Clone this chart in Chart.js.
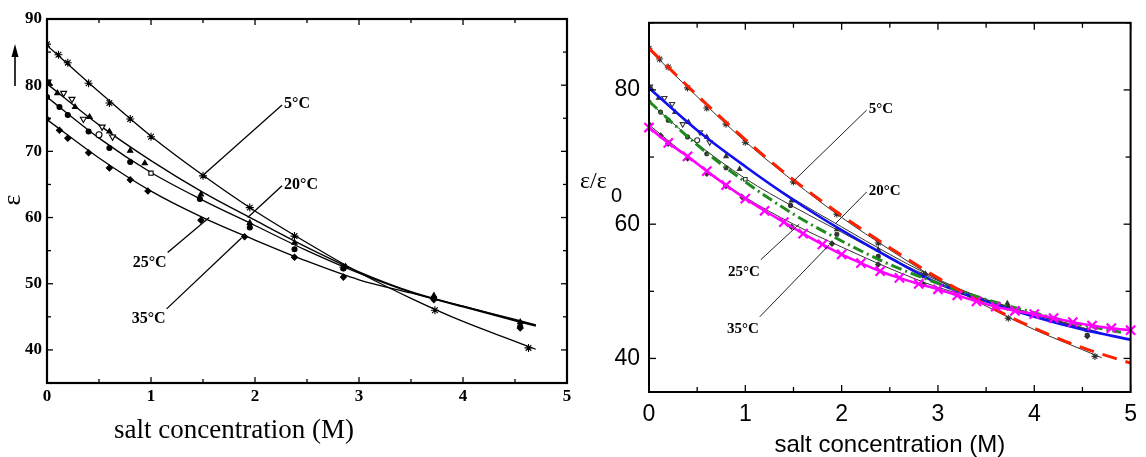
<!DOCTYPE html>
<html>
<head>
<meta charset="utf-8">
<script src="https://cdn.jsdelivr.net/npm/chart.js@4.4.1/dist/chart.umd.min.js"></script>
<style>
  html,body{margin:0;padding:0;background:#fff;}
  #wrap{position:relative;width:1146px;height:457px;overflow:hidden;background:#fff;}
  canvas{position:absolute;top:0;}
  #left{left:0;}
  #right{left:580px;}
</style>
</head>
<body>
<div id="wrap">
  <canvas id="left" width="580" height="457"></canvas>
  <canvas id="right" width="566" height="457"></canvas>
</div>
<script>
(function(){
  "use strict";

  const FIT_X   = [0, 0.5, 1, 1.5, 2, 2.5, 3, 3.5, 4, 4.5, 4.7];
  const FIT_5C  = [86.0, 79.0, 72.3, 66.4, 61.0, 56.2, 51.7, 47.8, 44.3, 41.3, 40.1];
  const FIT_20C = [80.2, 74.0, 68.6, 63.8, 59.6, 55.5, 51.8, 48.8, 46.6, 44.5, 43.7];
  const FIT_25C = [78.2, 72.0, 66.8, 62.6, 58.8, 55.0, 51.6, 48.7, 46.5, 44.4, 43.6];
  const FIT_35C = [74.8, 69.0, 64.0, 60.0, 56.6, 53.4, 50.6, 48.6, 46.6, 44.6, 43.8];

  // measured points
  const M5_X  = [0, 0.11, 0.2, 0.4, 0.6, 0.8, 1.0, 1.5, 1.95, 2.38, 2.85, 3.73, 4.63];
  const M5_Y  = [86.2, 84.6, 83.4, 80.3, 77.3, 74.9, 72.2, 66.3, 61.5, 57.2, 52.5, 46.0, 40.3];
  const M20_X = [0.02, 0.1, 0.27, 0.41, 0.6, 0.8, 0.94, 1.48, 1.95, 2.38, 2.87, 3.72, 4.55];
  const M20_Y = [80.3, 78.8, 76.7, 75.2, 73.0, 70.1, 68.2, 63.5, 59.2, 56.2, 52.6, 48.2, 44.2];
  const M25_X = [0, 0.12, 0.2, 0.4, 0.6, 0.8, 1.47, 1.95, 2.38, 2.85, 3.72, 4.55];
  const M25_Y = [78.2, 76.7, 75.5, 73.0, 70.5, 68.4, 62.8, 58.5, 55.2, 52.3, 47.8, 43.5];
  const M35_X = [0, 0.12, 0.2, 0.4, 0.6, 0.8, 0.97, 1.48, 1.9, 2.38, 2.85, 3.72, 4.55];
  const M35_Y = [74.9, 73.2, 72.0, 69.8, 67.5, 65.7, 64.0, 59.6, 57.1, 54.0, 51.0, 47.6, 43.3];
  const OPEN_X = [0.01, 0.16, 0.24, 0.35, 0.53, 0.63];
  const OPEN_Y = [80.5, 78.8, 77.9, 74.9, 73.7, 72.2];
  const SQ_X = [1.0], SQ_Y = [66.7];
  const CIRC_X = [0.5], CIRC_Y = [72.5];

  // model curves (right panel)
  const RED_X   = [0, 0.5, 1, 1.5, 2, 2.5, 3, 3.5, 4, 4.5, 5];
  const RED_Y   = [86.2, 79.2, 72.6, 66.6, 61.3, 56.5, 52.0, 48.0, 44.5, 41.6, 39.3];
  const BLUE_X  = [0, 0.5, 1, 1.5, 2, 2.5, 3, 3.5, 4, 4.5, 5];
  const BLUE_Y  = [80.3, 74.0, 68.6, 63.6, 59.1, 55.0, 51.2, 48.5, 46.2, 44.3, 42.8];
  const GREEN_X = [0, 0.5, 1, 1.5, 2, 2.5, 3, 3.5, 4, 4.5, 4.9];
  const GREEN_Y = [78.3, 71.8, 66.3, 61.5, 57.5, 54.0, 51.2, 48.8, 46.8, 45.0, 43.9];
  const MAG_X = [0, 0.2, 0.4, 0.6, 0.8, 1.0, 1.2, 1.4, 1.6, 1.8, 2.0, 2.2, 2.4, 2.6, 2.8, 3.0, 3.2, 3.4, 3.6, 3.8, 4.0, 4.2, 4.4, 4.6, 4.8, 5.0];
  const MAG_Y = [74.4, 72.1, 70.1, 67.9, 65.8, 63.8, 62.0, 60.3, 58.6, 57.0, 55.5, 54.2, 53.0, 52.0, 51.1, 50.3, 49.4, 48.5, 47.7, 47.1, 46.6, 46.0, 45.4, 44.9, 44.5, 44.2];

  // temperature labels with their leader lines (data coords)
  const LABELS   = ["5°C", "20°C", "25°C", "35°C"];
  const LEAD_X0  = [2.26, 2.26, 1.16, 1.15];
  const LEAD_Y0  = [77.0, 64.8, 54.7, 46.2];
  const LEAD_X1  = [1.5, 1.93, 1.56, 1.87];
  const LEAD_Y1  = [66.4, 60.0, 60.0, 56.9];

  const X_MIN = 0, X_MAX = 5;
  const Y_MIN = 35, Y_MAX = 90;

  function pts(xs, ys){ return xs.map((x,i)=>({x:x, y:ys[i]})); }

  function line(data, color, width, extra){
    return Object.assign({data:data, showLine:true, borderColor:color, borderWidth:width,
      pointRadius:0, cubicInterpolationMode:"monotone", fill:false}, extra||{});
  }
  function marks(data, style, r, fill, stroke, extra){
    return Object.assign({data:data, showLine:false, pointStyle:style, pointRadius:r,
      pointBackgroundColor:fill, pointBorderColor:stroke, pointBorderWidth:1.1}, extra||{});
  }

  function blackSet(c, r){
    return [
      line(pts(FIT_X, FIT_5C),  c, r.lw, {order:2}),
      line(pts(FIT_X, FIT_20C), c, r.lw, {order:2}),
      line(pts(FIT_X, FIT_25C), c, r.lw, {order:2}),
      line(pts(FIT_X, FIT_35C), c, r.lw, {order:2}),
      marks(pts(M5_X, M5_Y), "star", r.ms+1, c, c, {order:1}),
      marks(pts(M20_X, M20_Y), "triangle", r.ms, c, c, {order:1}),
      marks(pts(M25_X, M25_Y), "circle", r.ms-0.5, c, c, {order:1}),
      marks(pts(M35_X, M35_Y), "rectRot", r.ms, c, c, {order:1}),
      marks(pts(OPEN_X, OPEN_Y), "triangle", r.ms+0.5, "#fff", c, {order:1, rotation:180}),
      marks(pts(SQ_X, SQ_Y), "rect", r.ms, "#fff", c, {order:1}),
      marks(pts(CIRC_X, CIRC_Y), "circle", r.ms, "#fff", c, {order:1})
    ];
  }

  function decor(cfg){
    return {
      id:"decor",
      afterDatasetsDraw(chart){
        const ctx=chart.ctx, xs=chart.scales.x, ys=chart.scales.y;
        ctx.save();
        ctx.strokeStyle=cfg.leadColor; ctx.lineWidth=cfg.leadWidth; ctx.fillStyle="#000";
        ctx.font=cfg.labelFont; ctx.textBaseline="middle";
        LABELS.forEach((t,i)=>{
          const x0=xs.getPixelForValue(LEAD_X0[i]), y0=ys.getPixelForValue(LEAD_Y0[i]);
          const x1=xs.getPixelForValue(LEAD_X1[i]), y1=ys.getPixelForValue(LEAD_Y1[i]);
          ctx.beginPath(); ctx.moveTo(x0,y0); ctx.lineTo(x1,y1); ctx.stroke();
          if(i<2){ ctx.textAlign="left"; ctx.fillText(t, x0+2, y0-1); }
          else { ctx.textAlign="right"; ctx.fillText(t, x0-1, y0+cfg.lowDy); }
        });
        ctx.restore();
      },
      afterDraw(chart){
        const ctx=chart.ctx, a=chart.chartArea, xs=chart.scales.x, ys=chart.scales.y;
        ctx.save();
        ctx.strokeStyle="#000"; ctx.lineWidth=cfg.tickWidth;
        const seg=(x0,y0,x1,y1)=>{ctx.beginPath();ctx.moveTo(x0,y0);ctx.lineTo(x1,y1);ctx.stroke();};
        xs.ticks.forEach(t=>{
          const p=xs.getPixelForValue(t.value);
          const L=Number.isInteger(t.value)?cfg.major:cfg.minor;
          seg(p,a.bottom,p,a.bottom-L); seg(p,a.top,p,a.top+L);
        });
        ys.ticks.forEach(t=>{
          const p=ys.getPixelForValue(t.value);
          const L=cfg.isMajorY(t.value)?cfg.major:cfg.minor;
          seg(a.left,p,a.left+L,p); seg(a.right,p,a.right-L,p);
        });
        ctx.lineWidth=cfg.frameWidth;
        ctx.strokeRect(a.left,a.top,a.right-a.left,a.bottom-a.top);
        ctx.fillStyle="#000";
        cfg.titles(ctx,a);
        ctx.restore();
      }
    };
  }

  function baseOptions(o){
    return {
      responsive:false, animation:false, events:[],
      layout:{padding:o.padding},
      plugins:{legend:{display:false}, tooltip:{enabled:false}},
      scales:{
        x:{type:"linear", min:X_MIN, max:X_MAX,
          grid:{display:false, drawTicks:false}, border:{display:false},
          ticks:{stepSize:0.5, autoSkip:false, maxRotation:0, padding:o.xPad, color:"#000", font:o.tickFont,
            callback:v=>Number.isInteger(v)?String(v):""},
          afterFit(s){ s.height=o.xH; }},
        y:{type:"linear", min:Y_MIN, max:Y_MAX,
          grid:{display:false, drawTicks:false}, border:{display:false},
          ticks:{stepSize:o.yStep, autoSkip:false, padding:o.yPad, color:"#000", font:o.tickFont,
            callback:o.yLabel},
          afterFit(s){ s.width=o.yW; }}
      }
    };
  }

  // left panel: original measurement
  new Chart(document.getElementById("left"), {
    type:"scatter",
    data:{datasets:blackSet("#000", {lw:1.3, ms:3})},
    options:baseOptions({padding:{top:19,right:13,left:0,bottom:0}, xH:74, yW:47, xPad:3, yPad:5, yStep:5,
      tickFont:{family:"Liberation Serif", weight:"bold", size:17},
      yLabel:v=>(v%10===0 && v>=40)?String(v):""}),
    plugins:[decor({
      leadColor:"#000", leadWidth:1.3, labelFont:"bold 16px 'Liberation Serif'", lowDy:10,
      tickWidth:1.3, frameWidth:2.2, major:6, minor:4,
      isMajorY:v=>v%10===0,
      titles(ctx){
        ctx.font="27px 'Liberation Serif'"; ctx.textAlign="center"; ctx.textBaseline="alphabetic";
        ctx.fillText("salt concentration (M)", 234, 438);
        ctx.save(); ctx.translate(13,200); ctx.rotate(-Math.PI/2);
        ctx.font="26px 'Liberation Serif'"; ctx.textBaseline="middle"; ctx.fillText("ε",0,0);
        ctx.restore();
        ctx.lineWidth=1.6; ctx.beginPath(); ctx.moveTo(15,86); ctx.lineTo(15,52); ctx.stroke();
        ctx.beginPath(); ctx.moveTo(15,44); ctx.lineTo(11.5,57); ctx.lineTo(18.5,57); ctx.closePath(); ctx.fill();
      }
    })]
  });

  // right panel: scan overlaid with model curves
  const rightSets = [
    line(pts(MAG_X, MAG_Y), "#ff00ff", 2.6, {order:0, clip:false,
      pointStyle:"crossRot", pointRadius:6.5, pointBorderWidth:2.2, pointBorderColor:"#ff00ff", pointBackgroundColor:"#ff00ff"}),
    line(pts(RED_X, RED_Y), "#ff2000", 3, {order:0, borderDash:[15,9]}),
    line(pts(GREEN_X, GREEN_Y), "#1f8a1f", 3, {order:0, borderDash:[11,4,2,4]}),
    line(pts(BLUE_X, BLUE_Y), "#1010f0", 2.6, {order:0})
  ].concat(blackSet("#333", {lw:1, ms:2.5}));

  new Chart(document.getElementById("right"), {
    type:"scatter",
    data:{datasets:rightSets},
    options:baseOptions({padding:{top:18,right:10,left:0,bottom:0}, xH:65, yW:69, xPad:9, yPad:9, yStep:10,
      tickFont:{family:"Liberation Sans", size:23},
      yLabel:v=>(v===40||v===60||v===80)?String(v):""}),
    plugins:[decor({
      leadColor:"#222", leadWidth:1, labelFont:"bold 15px 'Liberation Serif'", lowDy:12,
      tickWidth:1.3, frameWidth:2, major:7, minor:5,
      isMajorY:v=>v===40||v===60||v===80,
      titles(ctx,a){
        ctx.font="24px 'Liberation Sans'"; ctx.textAlign="center"; ctx.textBaseline="alphabetic";
        ctx.fillText("salt concentration (M)", (a.left+a.right)/2, 452);
        ctx.textAlign="left";
        ctx.font="24px 'Liberation Serif'"; ctx.fillText("ε/ε", 0, 188);
        ctx.font="20px 'Liberation Sans'"; ctx.fillText("0", 31, 202);
      }
    })]
  });
})();
</script>
</body>
</html>
